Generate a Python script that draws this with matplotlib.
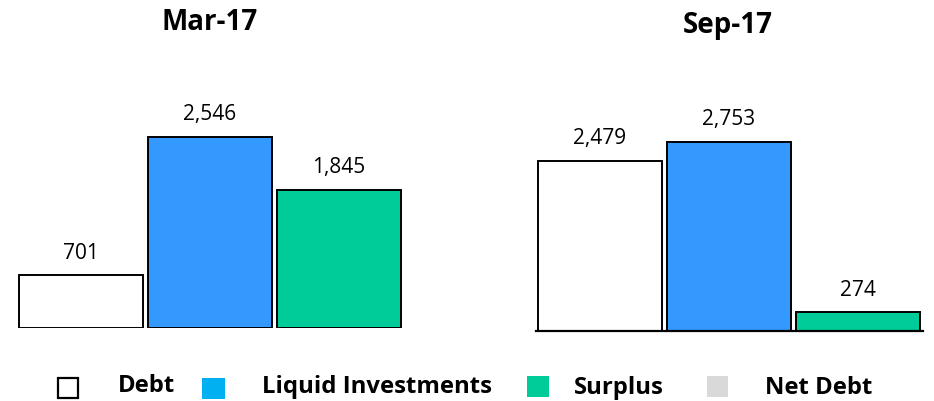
import matplotlib.pyplot as plt
from matplotlib.patches import Rectangle

categories = ["Debt", "Liquid Investments", "Surplus"]
mar17 = [701, 2546, 1845]
sep17 = [2479, 2753, 274]
labels_mar = ["701", "2,546", "1,845"]
labels_sep = ["2,479", "2,753", "274"]
legend_names = ["Debt", "Liquid Investments", "Surplus", "Net Debt"]

BAR_COLORS = ["white", "#3399FF", "#00CC99"]
LEGEND_COLORS = ["white", "#00B0F0", "#00CC99", "#D9D9D9"]

plt.rcParams["font.family"] = ["Open Sans", "DejaVu Sans"]

W, H = 934, 401
fig = plt.figure(figsize=(W / 100, H / 100), dpi=100)


def px_axes(left, bottom, width, height):
    return fig.add_axes([left / W, bottom / H, width / W, height / H])


def draw_panel(ax, values, labels, ymax, show_base):
    x = range(len(values))
    bars = ax.bar(x, values, width=0.961, color=BAR_COLORS,
                  edgecolor="black", linewidth=1.4)
    for bar, lab in zip(bars, labels):
        ax.annotate(lab, (bar.get_x() + bar.get_width() / 2, bar.get_height()),
                    xytext=(0, 12), textcoords="offset points",
                    ha="center", va="baseline", fontsize=15)
    ax.set_xlim(-0.5, 2.5)
    ax.set_ylim(0, ymax)
    ax.set_xticks([])
    ax.set_yticks([])
    for side in ["top", "left", "right"]:
        ax.spines[side].set_visible(False)
    if show_base:
        ax.spines["bottom"].set_linewidth(1.6)
    else:
        ax.spines["bottom"].set_visible(False)
    ax.patch.set_alpha(0)


# left panel: baseline at y=328 px from top, 0.075 px per unit
ax1 = px_axes(16.5, H - 328, 387, 3000 * 0.075)
draw_panel(ax1, mar17, labels_mar, 3000, False)

# right panel: baseline at y=331 px from top, 0.0687 px per unit
ax2 = px_axes(535.5, H - 331, 387, 3000 * 0.0687)
draw_panel(ax2, sep17, labels_sep, 3000, True)

fig.text(210 / W, 1 - 29.5 / H, "Mar-17", ha="center", va="baseline",
         fontsize=20, fontweight="bold")
fig.text(728 / W, 1 - 33.5 / H, "Sep-17", ha="center", va="baseline",
         fontsize=20, fontweight="bold")

# legend along the bottom (pixel boxes: x, y-top, w, h)
sq_box = [(58, 378, 20, 20), (202, 378, 23, 21), (527, 376, 22, 21), (707, 376, 21, 21)]
txt_x = [118, 262, 574, 765]
txt_y = [392, 393, 394, 394]
for name, col, (sx, sy, sw, sh), tx, ty in zip(legend_names, LEGEND_COLORS, sq_box, txt_x, txt_y):
    ec = "black" if col == "white" else "none"
    fig.add_artist(Rectangle((sx / W, 1 - (sy + sh) / H), sw / W, sh / H,
                             transform=fig.transFigure, facecolor=col,
                             edgecolor=ec, linewidth=1.6))
    fig.text(tx / W, 1 - ty / H, name, ha="left", va="baseline",
             fontsize=17.2, fontweight="bold")

fig.savefig("out.png", dpi=100)
